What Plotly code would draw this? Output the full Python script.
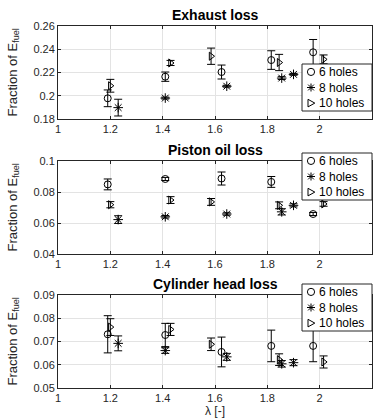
import plotly.graph_objects as go

# ---------------- data ----------------
x6 = [1.19, 1.41, 1.625, 1.815, 1.975]
x8 = [1.23, 1.41, 1.645, 1.855, 1.90]
x10 = [1.20, 1.43, 1.585, 1.845, 2.015]

# Exhaust loss
exh6 = [0.1978, 0.2164, 0.2204, 0.2307, 0.2374]
exh6_err = [0.0072, 0.0040, 0.0060, 0.0080, 0.0110]
exh8 = [0.1898, 0.1980, 0.2082, 0.2152, 0.2184]
exh8_err = [0.0072, 0.0008, 0.0008, 0.0012, 0.0008]
exh10 = [0.2086, 0.2282, 0.2340, 0.2286, 0.2313]
exh10_err = [0.0055, 0.0022, 0.0070, 0.0070, 0.0038]

# Piston oil loss
pis6 = [0.0849, 0.0884, 0.0887, 0.0865, 0.0658]
pis6_err = [0.0035, 0.0010, 0.0042, 0.0035, 0.0010]
pis8 = [0.0622, 0.0640, 0.0658, 0.0672, 0.0714]
pis8_err = [0.0025, 0.0008, 0.0008, 0.0020, 0.0010]
pis10 = [0.0718, 0.0748, 0.0736, 0.0714, 0.0723]
pis10_err = [0.0020, 0.0022, 0.0022, 0.0022, 0.0015]

# Cylinder head loss
cyl6 = [0.0731, 0.0728, 0.0655, 0.0681, 0.0681]
cyl6_err = [0.0080, 0.0050, 0.0064, 0.0068, 0.0068]
cyl8 = [0.0692, 0.0661, 0.0634, 0.0604, 0.0609]
cyl8_err = [0.0032, 0.0012, 0.0015, 0.0014, 0.0013]
cyl10 = [0.0762, 0.0752, 0.0688, 0.0622, 0.0612]
cyl10_err = [0.0036, 0.0026, 0.0027, 0.0025, 0.0026]

series_names = ["6 holes", "8 holes", "10 holes"]
symbols = ["circle-open", "asterisk-open", "triangle-right-open"]

panel_titles = ["Exhaust loss", "Piston oil loss", "Cylinder head loss"]
x_ticks = [1, 1.2, 1.4, 1.6, 1.8, 2, 2.2]
y_ticks = [
    [0.18, 0.2, 0.22, 0.24, 0.26],
    [0.04, 0.06, 0.08, 0.1],
    [0.05, 0.06, 0.07, 0.08, 0.09],
]
y_ranges = [[0.18, 0.26], [0.04, 0.1], [0.05, 0.09]]

panels = [
    [(x6, exh6, exh6_err), (x8, exh8, exh8_err), (x10, exh10, exh10_err)],
    [(x6, pis6, pis6_err), (x8, pis8, pis8_err), (x10, pis10, pis10_err)],
    [(x6, cyl6, cyl6_err), (x8, cyl8, cyl8_err), (x10, cyl10, cyl10_err)],
]

# ---------------- figure ----------------
FONT = "Liberation Sans, Arial, Helvetica, sans-serif"
TXT = "#262626"
W, H = 379, 419
ML, MR, MT, MB = 58, 7, 26, 31
PW, PH = W - ML - MR, H - MT - MB


def px_x(px):
    return (px - ML) / PW


def px_y(py):
    return (H - MB - py) / PH


fig = go.Figure()

# panel plot areas (pixel rows): 26..119, 161..254, 295..388
panel_px = [(26, 119), (161, 254), (295, 388)]
domains = [[px_y(b), px_y(t)] for t, b in panel_px]
domains[2][0] = 0.0
domains[0][1] = 1.0
legend_top_px = [64, 153, 284]

for p, series in enumerate(panels):
    xa = "x" if p == 0 else f"x{p+1}"
    ya = "y" if p == 0 else f"y{p+1}"
    for s, (xs, ys, es) in enumerate(series):
        fig.add_trace(go.Scatter(
            x=xs, y=ys, mode="markers", name=series_names[s],
            xaxis=xa, yaxis=ya, showlegend=False,
            marker=dict(symbol=symbols[s], size=7 if s != 1 else 8,
                        color="black", line=dict(color="black", width=1)),
            error_y=dict(type="data", array=es, visible=True,
                         color="black", thickness=1, width=4),
        ))

layout = dict(
    width=W, height=H,
    margin=dict(l=ML, r=MR, t=MT, b=MB),
    paper_bgcolor="white", plot_bgcolor="white",
    font=dict(family=FONT, size=11, color=TXT),
    showlegend=False,
)

axis_common = dict(
    showline=True, linecolor=TXT, linewidth=1, mirror="ticks",
    ticks="inside", ticklen=3, tickcolor=TXT, automargin=False,
    showgrid=True, gridcolor="#e3e3e3", gridwidth=1, zeroline=False,
    tickfont=dict(family=FONT, size=11, color=TXT),
)

# legend glyph paths (pixel offsets around anchor)
glyph_paths = {
    "asterisk-open": "M-4,0L4,0M0,-4L0,4M-2.9,-2.9L2.9,2.9M-2.9,2.9L2.9,-2.9",
    "triangle-right-open": "M-3,-3.8L3.8,0L-3,3.8Z",
}

LEG_FS = 12
LINE_H = LEG_FS * 1.3
BOX_H = 47

annotations = []
shapes = []
for p in range(3):
    sx = "" if p == 0 else str(p + 1)
    layout[f"xaxis{sx}"] = dict(
        axis_common, domain=[0, 1], anchor=f"y{sx}", range=[1, 2.2],
        tickvals=x_ticks, ticktext=[f"{v:g}" for v in x_ticks],
    )
    layout[f"yaxis{sx}"] = dict(
        axis_common, domain=domains[p], anchor=f"x{sx}", range=y_ranges[p],
        tickvals=y_ticks[p], ticktext=[f"{v:g}" for v in y_ticks[p]],
    )
    # panel title
    annotations.append(dict(
        text=f"<b>{panel_titles[p]}</b>", xref="paper", yref="paper",
        x=0.5, y=domains[p][1], yanchor="bottom", yshift=1, showarrow=False,
        font=dict(family=FONT, size=14, color="black"),
    ))
    # y-axis label
    annotations.append(dict(
        text="Fraction of E<sub>fuel</sub>", xref="paper", yref="paper",
        x=px_x(13), y=(domains[p][0] + domains[p][1]) / 2, textangle=-90,
        xanchor="center", yanchor="middle", showarrow=False,
        font=dict(family=FONT, size=13, color=TXT),
    ))
    # legend box
    top = legend_top_px[p]
    mid = top + BOX_H / 2
    shapes.append(dict(
        type="rect", xref="paper", yref="paper",
        x0=px_x(302), x1=px_x(372), y0=px_y(top + BOX_H), y1=px_y(top),
        fillcolor="white", line=dict(color=TXT, width=1), layer="above",
    ))
    for s in range(3):
        cy = px_y(mid + (s - 1) * LINE_H)
        cx = px_x(311)
        if symbols[s] == "circle-open":
            shapes.append(dict(
                type="circle", xref="paper", yref="paper",
                xsizemode="pixel", ysizemode="pixel", xanchor=cx, yanchor=cy,
                x0=-3.6, x1=3.6, y0=-3.6, y1=3.6,
                line=dict(color="black", width=1), layer="above",
            ))
        else:
            shapes.append(dict(
                type="path", xref="paper", yref="paper",
                xsizemode="pixel", ysizemode="pixel", xanchor=cx, yanchor=cy,
                path=glyph_paths[symbols[s]],
                line=dict(color="black", width=1), layer="above",
            ))
    annotations.append(dict(
        text="<br>".join(series_names), xref="paper", yref="paper",
        x=px_x(318), y=px_y(mid), xanchor="left", yanchor="middle",
        align="left", showarrow=False, borderpad=0,
        font=dict(family=FONT, size=LEG_FS, color="black"),
    ))

annotations.append(dict(
    text="λ [-]", xref="paper", yref="paper", x=0.5, y=px_y(411),
    xanchor="center", yanchor="middle", showarrow=False, borderpad=0,
    font=dict(family=FONT, size=12, color=TXT),
))
layout["annotations"] = annotations
layout["shapes"] = shapes
fig.update_layout(**layout)

fig.write_html(
    "out.html",
    config={"displayModeBar": False},
    post_script="document.body.style.margin='0';document.body.style.padding='0';",
)
